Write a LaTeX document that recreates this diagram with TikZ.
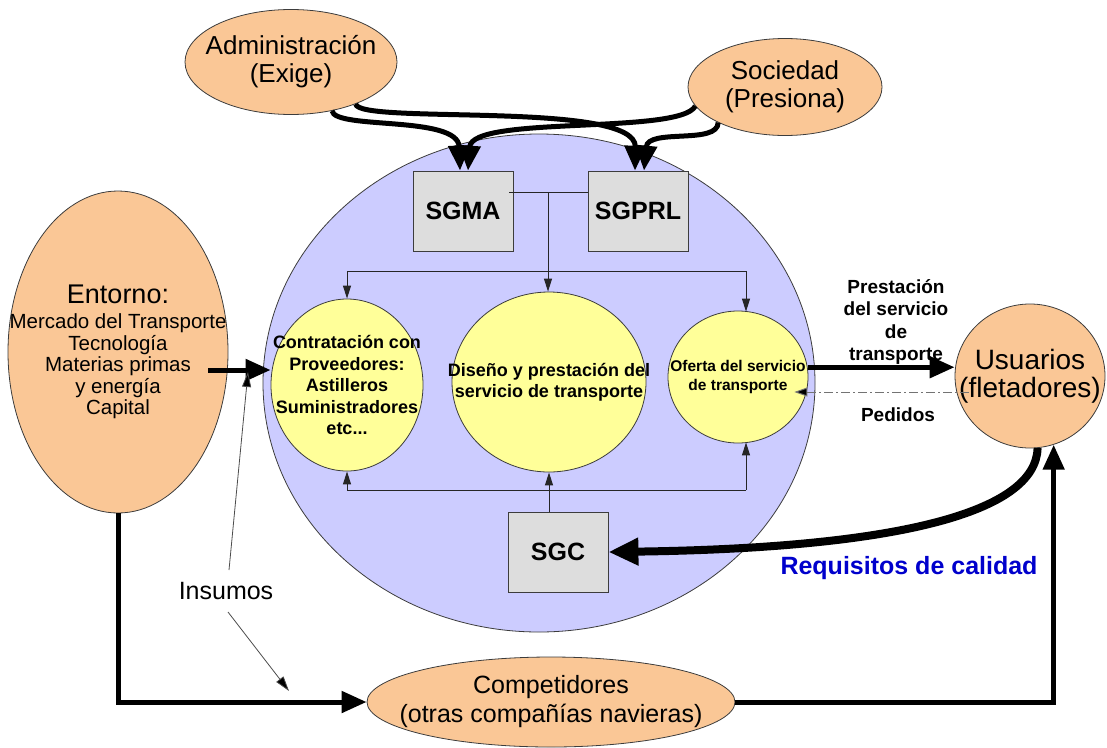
\documentclass[tikz,border=0pt]{standalone}
\usepackage{fontspec}
\setmainfont{Liberation Sans}
\usetikzlibrary{shapes.geometric,arrows.meta}
\definecolor{peach}{RGB}{250,199,150}
\definecolor{lilac}{RGB}{204,204,255}
\definecolor{lemon}{RGB}{255,255,153}
\definecolor{boxgray}{RGB}{221,221,221}
\definecolor{edge}{RGB}{60,60,60}
\definecolor{reqblue}{RGB}{0,0,204}
\newcommand{\fs}[2]{\fontsize{#1}{#2}\selectfont}
\begin{document}
\begin{tikzpicture}[x=1pt,y=-1pt,
  % shapes keep their own size; their text sits in a centred label
  oval/.style={ellipse, draw=edge, fill=peach, line width=0.8pt, inner sep=0pt},
  proc/.style={ellipse, draw=edge, fill=lemon, line width=0.8pt, inner sep=0pt},
  txt/.style={align=center, inner sep=0pt},
  sgbox/.style={rectangle, draw=edge, fill=boxgray, line width=0.8pt, minimum width=100pt,
               minimum height=80pt, font=\bfseries\fs{25}{28}},
  heavy/.style={line width=5pt, -{Triangle[length=25pt,width=21pt]}},
  wire/.style={line width=1pt, draw=black!85},
  link/.style={wire, -{Triangle[length=13pt,width=8pt]}},
  hint/.style={line width=0.8pt, draw=black!70, -{Triangle[length=15pt,width=9pt,fill=black]}},
  order/.style={line width=1pt, draw=black!55, dash pattern=on 9pt off 3pt on 2pt off 3pt,
               -{Triangle[length=13pt,width=9pt,fill=black]}},
  lbl/.style={font=\bfseries\fs{19}{22.5}, align=center, inner sep=0pt}
]
\useasboundingbox (0,0) rectangle (1107,747);

% company boundary
\node[ellipse, draw=edge, fill=lilac, line width=0.8pt, inner sep=0pt,
      minimum width=552pt, minimum height=498pt] (firm) at (539,383) {};

% outside actors
\node[oval, minimum width=212pt, minimum height=105pt,
      label={[txt, font=\fs{26}{28}]center:Administración\\(Exige)}] (adm) at (291,62) {};
\node[oval, minimum width=194pt, minimum height=97pt,
      label={[txt, font=\fs{26}{28}]center:Sociedad\\(Presiona)}] (soc) at (785,87) {};
\node[oval, minimum width=220pt, minimum height=322pt,
      label={[txt, font=\fs{20.5}{21.5}]center:{\fs{27}{30}Entorno:}\\[4pt]Mercado del Transporte\\
        Tecnología\\Materias primas\\y energía\\Capital}] (ent) at (118,352) {};
\node[oval, minimum width=150pt, minimum height=144pt,
      label={[txt, font=\fs{28}{28}]center:Usuarios\\(fletadores)}] (usr) at (1030,376) {};
\node[oval, minimum width=368pt, minimum height=90pt,
      label={[txt, font=\fs{25}{29}]center:Competidores\\(otras compañías navieras)}] (comp) at (551,702) {};

% management systems
\node[sgbox] (sgma) at (463,211) {SGMA};
\node[sgbox] (sgprl) at (638,211) {SGPRL};
\node[sgbox] (sgc) at (558,552) {SGC};

% processes
\node[proc, minimum width=152pt, minimum height=172pt,
      label={[txt, font=\bfseries\fs{18}{21.5}]center:Contratación con\\Proveedores:\\Astilleros\\
        Suministradores\\etc...}] (left) at (347,385) {};
\node[proc, minimum width=194pt, minimum height=180pt,
      label={[txt, font=\bfseries\fs{18}{21}]center:Diseño y prestación del\\servicio de transporte}]
      (mid) at (549,382) {};
\node[proc, minimum width=140pt, minimum height=132pt,
      label={[txt, font=\bfseries\fs{15.5}{19}]center:Oferta del servicio\\de transporte}]
      (right) at (738,377) {};

% SGMA / SGPRL feed the processes
\coordinate (tj) at (548,192);
\coordinate (tl) at (347,271);
\coordinate (tr) at (746,271);
\draw[wire] ([yshift=19pt,xshift=-4pt]sgma.east) -- ([yshift=19pt]sgprl.west);
\draw[link] (tj) -- (tj |- mid.north);
\draw[wire] (tl) -- (tr);
\draw[link] (tl) -- (tl |- left.north);
\draw[link] (tr) -- ([yshift=-1pt]tr |- right.north);

% SGC feeds the processes
\coordinate (bl) at (347,490);
\coordinate (br) at (746,490);
\draw[wire] (bl) -- (br);
\draw[link] (bl) -- (bl |- left.south);
\draw[link] (br) -- ([yshift=1pt]br |- right.south);
\draw[link] (sgc.north -| mid.south) -- (mid.south);

% pressure from administration and society
\draw[heavy] (adm.-50) .. controls (335,130) and (458,115) .. ([xshift=-3pt]sgma.north);
\draw[heavy] (adm.-33) .. controls (358,125) and (636,100) .. ([xshift=-3pt]sgprl.north);
\draw[heavy] (soc.-168) .. controls (680,135) and (472,115) .. ([xshift=5pt]sgma.north);
\draw[heavy] (soc.-152) .. controls (718,145) and (648,128) .. ([xshift=6pt]sgprl.north);

% inputs
\coordinate (ein) at (208,370);
\draw[heavy] (ein) -- (ein -| left.west);
\node[font=\fs{25}{27}, inner sep=0pt] (ins) at (226,591) {Insumos};
\coordinate (ins1) at (229,570);
\coordinate (ins2) at (228,612);
\coordinate (hit1) at (248,372);
\coordinate (hit2) at (289,691);
\draw[hint] (ins1) -- (hit1);
\draw[hint] (ins2) -- (hit2);
\draw[heavy] (ent.south) |- (comp.west);
\draw[heavy] (comp.east) -| (usr.-71.6);

% service and orders
\draw[heavy] (right.8) -- (right.8 -| usr.west);
\node[lbl] (prest) at (896,322) {Prestación\\del servicio\\de\\transporte};
\draw[order] ([yshift=-16pt,xshift=14pt]usr.west) -- ([xshift=-14pt,yshift=-15pt]right.east);
\node[lbl] (ped) at (898,415) {Pedidos};

% quality requirements
\draw[line width=8pt, -{Triangle[length=30pt,width=26pt]}]
  (usr.-84) .. controls (1036,512) and (900,548) .. (sgc.east);
\node[font=\bfseries\fs{25}{28}, text=reqblue, inner sep=0pt] (req) at (909,568)
  {Requisitos de calidad};
\end{tikzpicture}
\end{document}
